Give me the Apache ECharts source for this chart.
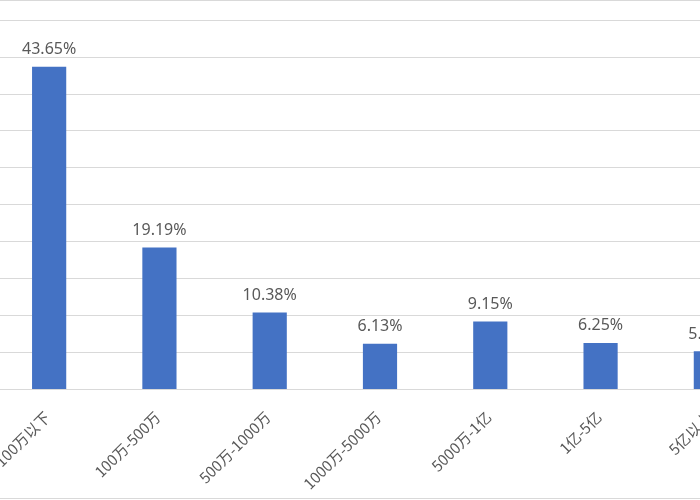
<!DOCTYPE html>
<html><head><meta charset="utf-8">
<script src="https://cdn.jsdelivr.net/npm/echarts@6/dist/echarts.min.js"></script>
<style>
html,body{margin:0;padding:0;background:#fff;overflow:hidden;}
#wrap{position:relative;width:700px;height:500px;overflow:hidden;}
#c{position:absolute;left:-6px;top:0;width:772px;height:500px;}
.bl{position:absolute;left:0;width:700px;height:1px;background:#d9d9d9;}
</style></head>
<body>
<div id="wrap">
<div id="c"></div>
<div class="bl" style="top:0"></div>
<div class="bl" style="top:498px"></div>
</div>
<script>
const categories = ['100万以下','100万-500万','500万-1000万','1000万-5000万','5000万-1亿','1亿-5亿','5亿以上'];
const values = [43.65, 19.19, 10.38, 6.13, 9.15, 6.25, 5.10];
const labels = ['43.65%','19.19%','10.38%','6.13%','9.15%','6.25%','5.10%'];

const chart = echarts.init(document.getElementById('c'), null, {renderer:'canvas'});
chart.setOption({
  animation:false,
  grid:{left:0, right:0, top:20, bottom:111, containLabel:false, outerBoundsMode:'none'},
  xAxis:{
    type:'category', data:categories,
    axisLine:{lineStyle:{color:'#d9d9d9', width:1}},
    axisTick:{show:false},
    axisLabel:{rotate:45, margin:13, verticalAlign:'top', padding:[0,10,0,0], color:'#595959', fontSize:15,
      fontFamily:'"Noto Sans CJK SC", "Noto Sans", sans-serif', interval:0}
  },
  yAxis:{
    type:'value', min:0, max:50, interval:5,
    axisLabel:{show:false},
    axisLine:{show:false}, axisTick:{show:false},
    splitLine:{lineStyle:{color:'#d9d9d9', width:1}}
  },
  series:[{
    type:'bar', data:values, barWidth:'31%',
    itemStyle:{color:'#4472C4'},
    label:{show:true, position:'top', distance:9, color:'#595959', fontSize:16,
      fontFamily:'"Noto Sans", sans-serif',
      formatter:(p)=>labels[p.dataIndex]}
  }]
});
</script>
</body></html>
